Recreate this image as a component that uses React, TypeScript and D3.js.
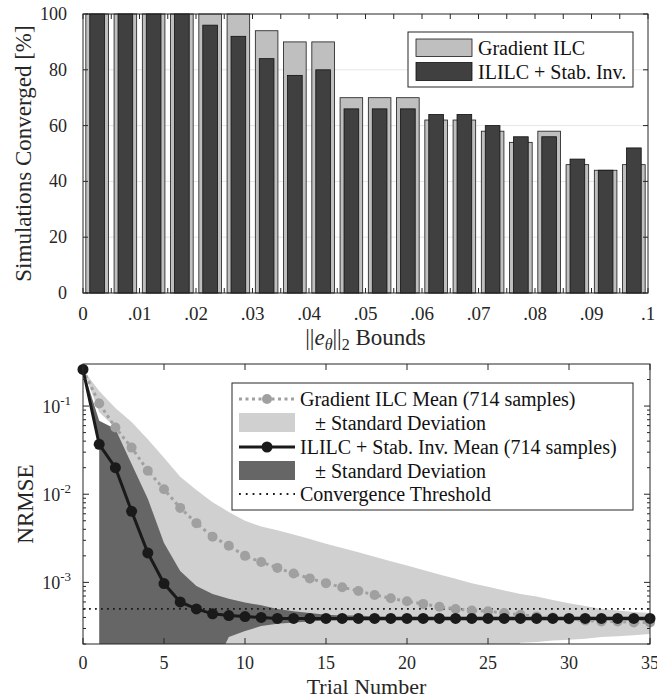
import React from 'react';
import * as d3 from 'd3';

// ---- top panel data: % of simulations converged per error bound ----
const boundCenters = [
  0.0025, 0.0075, 0.0125, 0.0175, 0.0225, 0.0275, 0.0325, 0.0375, 0.0425, 0.0475,
  0.0525, 0.0575, 0.0625, 0.0675, 0.0725, 0.0775, 0.0825, 0.0875, 0.0925, 0.0975,
];
const gradientConverged = [100, 100, 100, 100, 100, 100, 94, 90, 90, 70, 70, 70, 62, 62, 58, 54, 58, 46, 44, 46];
const ililcConverged = [100, 100, 100, 100, 96, 92, 84, 78, 80, 66, 66, 66, 64, 64, 60, 56, 56, 48, 44, 52];
const boundTicks = [0, 0.01, 0.02, 0.03, 0.04, 0.05, 0.06, 0.07, 0.08, 0.09, 0.1];
const boundTickLabels = ['0', '.01', '.02', '.03', '.04', '.05', '.06', '.07', '.08', '.09', '.1'];
const percentTicks = [0, 20, 40, 60, 80, 100];

// ---- bottom panel data: NRMSE per trial ----
const trials = [
  0, 1, 2, 3, 4, 5, 6, 7, 8, 9, 10, 11, 12, 13, 14, 15, 16, 17,
  18, 19, 20, 21, 22, 23, 24, 25, 26, 27, 28, 29, 30, 31, 32, 33, 34, 35,
];
const gradMean = [
  0.26, 0.107, 0.057, 0.0338, 0.0185, 0.0114, 0.007, 0.0047, 0.0033, 0.0026, 0.002, 0.0017,
  0.00146, 0.00126, 0.00111, 0.00098, 0.00088, 0.0008, 0.00072, 0.00066, 0.00061, 0.00057,
  0.00053, 0.0005, 0.00048, 0.00047, 0.00045, 0.00043, 0.00041, 0.0004, 0.00038, 0.00037,
  0.00036, 0.00036, 0.00035, 0.00035,
];
const gradUpper = [
  0.26, 0.148, 0.095, 0.066, 0.042, 0.026, 0.0158, 0.0112, 0.0081, 0.0063, 0.005, 0.0043,
  0.0039, 0.0035, 0.0031, 0.00275, 0.00245, 0.00219, 0.00195, 0.00174, 0.00155, 0.00138,
  0.00123, 0.0011, 0.00098, 0.00089, 0.00081, 0.00074, 0.00069, 0.00063, 0.00058, 0.00054,
  0.0005, 0.00048, 0.00046, 0.00045,
];
// null = mean minus std below zero
const gradLower = [
  0.26, 0.085, null, null, null, null, null, null, null, null, null, null,
  null, null, null, null, null, null, null, null, null, null,
  null, null, null, null, null, 0.000206, 0.000211, 0.000219, 0.000224, 0.000229,
  0.00024, 0.000245, 0.000251, 0.00026,
];
const ililcMean = [
  0.26, 0.0368, 0.02, 0.0064, 0.00216, 0.00097, 0.0006, 0.0005, 0.00044, 0.00042, 0.00041, 0.0004,
  0.00039, 0.00039, 0.00039, 0.00039, 0.00039, 0.00039, 0.00039, 0.00039, 0.00039, 0.00039,
  0.00039, 0.00039, 0.00039, 0.00039, 0.00039, 0.00039, 0.00039, 0.00039, 0.00039, 0.00039,
  0.00039, 0.00039, 0.00039, 0.00039,
];
const ililcUpper = [
  0.26, 0.068, 0.055, 0.022, 0.0089, 0.0028, 0.00135, 0.00091, 0.00074, 0.00065, 0.00059, 0.00055,
  0.0005, 0.00047, 0.00045, 0.00043, 0.00042, 0.00042, 0.00041, 0.00041, 0.00041, 0.00041,
  0.00041, 0.00041, 0.00041, 0.00041, 0.00041, 0.00041, 0.00041, 0.00041, 0.00041, 0.00041,
  0.00041, 0.00041, 0.00041, 0.00041,
];
const ililcLower = [
  0.26, null, null, null, null, null, null, null, null, 0.00024, 0.00028, 0.00032,
  0.00034, 0.00035, 0.00036, 0.00037, 0.00037, 0.00037, 0.00037, 0.00037, 0.00037, 0.00037,
  0.00037, 0.00037, 0.00037, 0.00037, 0.00037, 0.00037, 0.00037, 0.00037, 0.00037, 0.00037,
  0.00037, 0.00037, 0.00037, 0.00037,
];
const threshold = 5e-4;
const trialTicks = [0, 5, 10, 15, 20, 25, 30, 35];
const nrmseTicks = [1e-1, 1e-2, 1e-3];
const nrmseExps = ['-1', '-2', '-3'];

const serif = '"Liberation Serif", "Times New Roman", Times, serif';
const LIGHT = '#d0d0d0';
const DARK = '#666666';
const GRAY = '#a0a0a0';
const BLACK = '#1a1a1a';

function bandPath(upper, lower, mean, x, y, floorVal) {
  const pts: [number, number][] = [];
  trials.forEach((t, i) => pts.push([x(t), y(upper[i])]));
  for (let i = trials.length - 1; i >= 0; i--) {
    const v = lower[i];
    if (v == null) {
      pts.push([x(trials[i]), y(floorVal)]);
      if (i > 0 && lower[i - 1] != null) pts.push([x(trials[i]), y(mean[i])]);
    } else {
      pts.push([x(trials[i]), y(v)]);
    }
  }
  return d3.line()(pts) + 'Z';
}

const BarPanel = () => {
  const L = 83, R = 648, T = 14, B = 293;
  const x = d3.scaleLinear().domain([0, 0.1]).range([L, R]);
  const y = d3.scaleLinear().domain([0, 100]).range([B, T]);
  const lightW = x(0.004) - x(0);
  const darkW = x(0.0026) - x(0);
  const minorX = x.ticks(20);

  return (
    <g>
      {percentTicks.slice(1, -1).map(p => (
        <line key={'g' + p} x1={L} x2={R} y1={y(p)} y2={y(p)} stroke="#e6e6e6" strokeWidth={1} />
      ))}
      {boundCenters.map((c, i) => (
        <rect key={'l' + i} x={x(c) - lightW / 2} y={y(gradientConverged[i])} width={lightW}
          height={B - y(gradientConverged[i])} fill="#bfbfbf" stroke="#1a1a1a" strokeWidth={0.8} />
      ))}
      {boundCenters.map((c, i) => (
        <rect key={'d' + i} x={x(c) - darkW / 2} y={y(ililcConverged[i])} width={darkW}
          height={B - y(ililcConverged[i])} fill="#404040" stroke="#111" strokeWidth={0.8} />
      ))}
      <rect x={L} y={T} width={R - L} height={B - T} fill="none" stroke="#262626" strokeWidth={1} />
      {minorX.map((v, i) => (
        <g key={'xt' + i}>
          <line x1={x(v)} x2={x(v)} y1={B} y2={B - 5} stroke="#262626" />
          <line x1={x(v)} x2={x(v)} y1={T} y2={T + 5} stroke="#262626" />
        </g>
      ))}
      {percentTicks.map(p => (
        <g key={'yt' + p}>
          <line x1={L} x2={L + 5} y1={y(p)} y2={y(p)} stroke="#262626" />
          <line x1={R} x2={R - 5} y1={y(p)} y2={y(p)} stroke="#262626" />
          <text x={L - 16} y={y(p) + 6} textAnchor="end" fontSize={18} fontFamily={serif} fill="#262626">{p}</text>
        </g>
      ))}
      {boundTicks.map((b, i) => (
        <text key={'xl' + i} x={x(b)} y={320} textAnchor="middle" fontSize={19} fontFamily={serif} fill="#262626">
          {boundTickLabels[i]}
        </text>
      ))}
      <text x={(L + R) / 2} y={345} textAnchor="middle" fontSize={23} fontFamily={serif} fill="#262626">
        <tspan>||</tspan>
        <tspan fontStyle="italic">e</tspan>
        <tspan fontStyle="italic" fontSize={16} dy={5}>θ</tspan>
        <tspan dy={-5}>||</tspan>
        <tspan fontSize={16} dy={5}>2</tspan>
        <tspan dy={-5}> Bounds</tspan>
      </text>
      <text transform={`translate(31,${(T + B) / 2}) rotate(-90)`} textAnchor="middle" fontSize={23}
        fontFamily={serif} fill="#262626">Simulations Converged [%]</text>
      {/* legend */}
      <rect x={408} y={32} width={225} height={55} fill="#fff" stroke="#262626" strokeWidth={1} />
      <rect x={416} y={39} width={56} height={17.5} fill="#bfbfbf" stroke="#1a1a1a" strokeWidth={0.8} />
      <rect x={416} y={62.5} width={56} height={18} fill="#404040" stroke="#111" strokeWidth={0.8} />
      <text x={478} y={55} fontSize={20} fontFamily={serif} fill="#111">Gradient ILC</text>
      <text x={478} y={79} fontSize={20} fontFamily={serif} fill="#111">ILILC + Stab. Inv.</text>
    </g>
  );
};

const NrmsePanel = () => {
  const L = 83, R = 650, T = 364, B = 644;
  const x = d3.scaleLinear().domain([0, 35]).range([L, R]);
  const y = d3.scaleLog().domain([2e-4, 0.3]).range([B, T]);
  const floorVal = 1e-4;
  const minorY: number[] = [];
  [-4, -3, -2, -1].forEach(k => {
    for (let m = 2; m <= 9; m++) {
      const v = m * Math.pow(10, k);
      if (v >= 2e-4 && v <= 0.3) minorY.push(v);
    }
  });
  const line = d3.line<number>().x((_, i) => x(trials[i])).y(d => y(d));

  return (
    <g>
      <defs>
        <clipPath id="nrmse-clip">
          <rect x={L} y={T} width={R - L} height={B - T} />
        </clipPath>
      </defs>
      <g clipPath="url(#nrmse-clip)">
        <path d={bandPath(gradUpper, gradLower, gradMean, x, y, floorVal)} fill={LIGHT} stroke="none" />
        <path d={bandPath(ililcUpper, ililcLower, ililcMean, x, y, floorVal)} fill={DARK} stroke="none" />
        <line x1={L} x2={R} y1={y(threshold)} y2={y(threshold)} stroke={BLACK} strokeWidth={1.8}
          strokeDasharray="1.8 4.2" />
      </g>
      <path d={line(gradMean) || ''} fill="none" stroke={GRAY} strokeWidth={3} strokeDasharray="3 3.5" />
      {gradMean.map((v, i) => (
        <circle key={'gm' + i} cx={x(trials[i])} cy={y(v)} r={5} fill={GRAY} />
      ))}
      <path d={line(ililcMean) || ''} fill="none" stroke={BLACK} strokeWidth={3} />
      {ililcMean.map((v, i) => (
        <circle key={'im' + i} cx={x(trials[i])} cy={y(v)} r={5.5} fill={BLACK} />
      ))}
      <rect x={L} y={T} width={R - L} height={B - T} fill="none" stroke="#262626" strokeWidth={1} />
      {trialTicks.map(t => (
        <g key={'xt' + t}>
          <line x1={x(t)} x2={x(t)} y1={B} y2={B - 6} stroke="#262626" />
          <line x1={x(t)} x2={x(t)} y1={T} y2={T + 6} stroke="#262626" />
          <text x={x(t)} y={669} textAnchor="middle" fontSize={18} fontFamily={serif} fill="#262626">{t}</text>
        </g>
      ))}
      {minorY.map((v, i) => (
        <g key={'my' + i}>
          <line x1={L} x2={L + 3} y1={y(v)} y2={y(v)} stroke="#262626" />
          <line x1={R} x2={R - 3} y1={y(v)} y2={y(v)} stroke="#262626" />
        </g>
      ))}
      {nrmseTicks.map((v, i) => (
        <g key={'yt' + i}>
          <line x1={L} x2={L + 6} y1={y(v)} y2={y(v)} stroke="#262626" />
          <line x1={R} x2={R - 6} y1={y(v)} y2={y(v)} stroke="#262626" />
          <text x={71} y={y(v) + 7} textAnchor="end" fontSize={18} fontFamily={serif} fill="#262626">
            <tspan>10</tspan>
            <tspan fontSize={13} dy={-8}>{nrmseExps[i]}</tspan>
          </text>
        </g>
      ))}
      <text x={(L + R) / 2} y={694} textAnchor="middle" fontSize={22} fontFamily={serif} fill="#262626">Trial Number</text>
      <text transform={`translate(33,${(T + B) / 2}) rotate(-90)`} textAnchor="middle" fontSize={23}
        fontFamily={serif} fill="#262626">NRMSE</text>
      {/* legend */}
      <rect x={232} y={383} width={401} height={127} fill="#fff" stroke="#262626" strokeWidth={1} />
      <line x1={239} x2={295} y1={399} y2={399} stroke={GRAY} strokeWidth={3} strokeDasharray="3 3.5" />
      <circle cx={267} cy={399} r={5} fill={GRAY} />
      <rect x={239} y={413} width={56} height={19} fill={LIGHT} />
      <line x1={239} x2={295} y1={447} y2={447} stroke={BLACK} strokeWidth={3} />
      <circle cx={267} cy={447} r={5.5} fill={BLACK} />
      <rect x={239} y={461} width={56} height={19} fill={DARK} />
      <line x1={239} x2={295} y1={494} y2={494} stroke={BLACK} strokeWidth={1.8} strokeDasharray="1.8 5" />
      <text x={300} y={406} fontSize={20} fontFamily={serif} fill="#111">Gradient ILC Mean (714 samples)</text>
      <text x={315} y={430} fontSize={20} fontFamily={serif} fill="#111">± Standard Deviation</text>
      <text x={300} y={454} fontSize={20} fontFamily={serif} fill="#111">ILILC + Stab. Inv. Mean (714 samples)</text>
      <text x={315} y={478} fontSize={20} fontFamily={serif} fill="#111">± Standard Deviation</text>
      <text x={300} y={501} fontSize={20} fontFamily={serif} fill="#111">Convergence Threshold</text>
    </g>
  );
};

export default function App() {
  return (
    <svg width={657} height={700}
      style={{ display: 'block', position: 'absolute', left: 0, top: 0, background: '#fff' }}>
      <BarPanel />
      <NrmsePanel />
    </svg>
  );
}
